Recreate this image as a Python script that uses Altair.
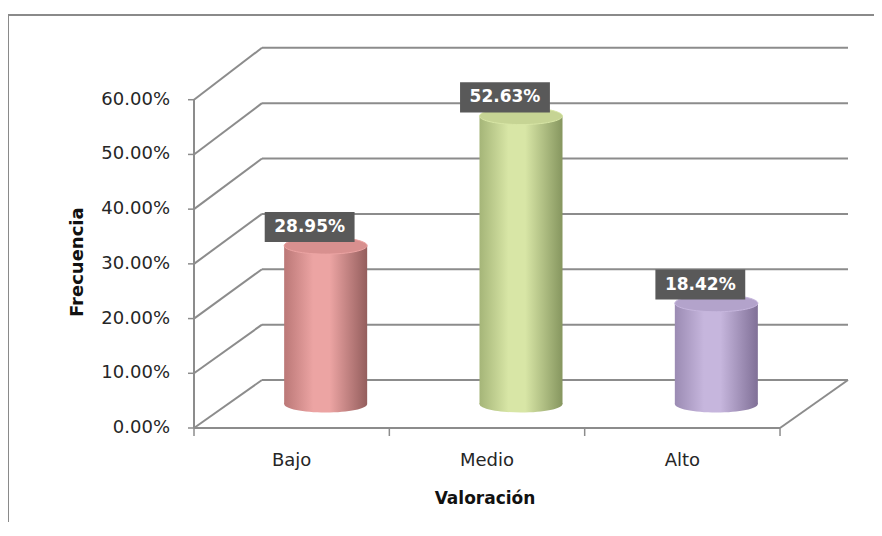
import altair as alt
import pandas as pd

# ---------------- data ----------------
categories = ["Bajo", "Medio", "Alto"]
values = [28.95, 52.63, 18.42]
value_labels = ["28.95%", "52.63%", "18.42%"]
y_ticks = [0, 10, 20, 30, 40, 50, 60]
y_tick_labels = ["0.00%", "10.00%", "20.00%", "30.00%", "40.00%", "50.00%", "60.00%"]
x_ticks = [0, 1, 2, 3]
x_title = "Valoración"
y_title = "Frecuencia"

light = ["#eca4a3", "#d8e6a6", "#c6b6dd"]
dark_left = ["#bb7877", "#a5b578", "#9b8bb3"]
dark_right = ["#945e5d", "#86965f", "#807097"]
top_col = ["#d8908f", "#c6d494", "#b3a3cb"]

# ---------------- style constants ----------------
PX_X = 195.33   # px per category unit
PX_Y = 5.471    # px per value unit
DX = 0.348      # depth offset in category units
DY = 8.77       # depth offset in value units
BACK_K = 1.012  # slight perspective stretch on the back wall
R = 0.2125      # cylinder half-width in category units
CYL_PX = 83     # cylinder width in px (for the ellipse symbols)
GRID = "#8c8c8c"
FONT = "DejaVu Sans"
ELLIPSE = "M -1 0 A 1 0.205 0 1 0 1 0 A 1 0.205 0 1 0 -1 0 Z"

xs = alt.Scale(domain=[0, 3 + DX], nice=False, zero=False)
ys = alt.Scale(domain=[0, 70], nice=False, zero=False)


def X(f):
    return alt.X(f, scale=xs, axis=None)


def Y(f):
    return alt.Y(f, scale=ys, axis=None)


# ---------------- tables ----------------
grid_df = pd.DataFrame({"t": y_ticks, "lab": y_tick_labels})
grid_df["xa"] = DX
grid_df["xb"] = 3 + DX
grid_df["x0"] = 0.0
grid_df["xt"] = -6 / PX_X
grid_df["yb"] = grid_df["t"] * BACK_K + DY

xt_df = pd.DataFrame({"x": x_ticks})
xt_df["y"] = 0.0
xt_df["y2"] = -8 / PX_Y

cat_df = pd.DataFrame({"cat": categories, "v": values, "lab": value_labels})
cat_df["i"] = range(len(categories))
cat_df["xc"] = cat_df["i"] + 0.5
cat_df["cx"] = cat_df["i"] + 0.5 + DX / 2
cat_df["cl"] = cat_df["cx"] - R
cat_df["cr"] = cat_df["cx"] + R
cat_df["yb0"] = DY / 2
cat_df["ytop"] = cat_df["v"] + DY / 2
cat_df["bx"] = cat_df["i"] + 0.5 + 0.092
cat_df["bl"] = cat_df["bx"] - 0.23
cat_df["br"] = cat_df["bx"] + 0.23
cat_df["by"] = cat_df["v"] + 7.8
cat_df["byl"] = cat_df["by"] - 2.75
cat_df["byh"] = cat_df["by"] + 2.75
cat_df["zero"] = 0.0

titles_df = pd.DataFrame({"x": [1.5], "y": [0.0], "tx": [x_title]})
ytitle_df = pd.DataFrame({"x": [-116 / PX_X], "y": [30.3], "tx": [y_title]})

# back wall gridlines
back = alt.Chart(grid_df).mark_rule(color=GRID, strokeWidth=2).encode(
    x=X("xa:Q"), x2="xb:Q", y=Y("yb:Q"))
# side wall diagonals
side = alt.Chart(grid_df).mark_rule(color=GRID, strokeWidth=2).encode(
    x=X("x0:Q"), x2="xa:Q", y=Y("t:Q"), y2="yb:Q")
# floor right edge
floor_df = pd.DataFrame({"x": [3.0], "x2": [3 + DX], "y": [0.0], "y2": [DY]})
floor_r = alt.Chart(floor_df).mark_rule(color=GRID, strokeWidth=2).encode(
    x=X("x:Q"), x2="x2:Q", y=Y("y:Q"), y2="y2:Q")
# front axis lines
yline_df = pd.DataFrame({"x": [0.0], "y": [0.0], "y2": [float(y_ticks[-1])]})
yline = alt.Chart(yline_df).mark_rule(color=GRID, strokeWidth=2).encode(
    x=X("x:Q"), y=Y("y:Q"), y2="y2:Q")
xline_df = pd.DataFrame({"x": [0.0], "x2": [3.0], "y": [0.0]})
xline = alt.Chart(xline_df).mark_rule(color=GRID, strokeWidth=2).encode(
    x=X("x:Q"), x2="x2:Q", y=Y("y:Q"))
# ticks
yticks = alt.Chart(grid_df).mark_rule(color=GRID, strokeWidth=1.5).encode(
    x=X("xt:Q"), x2="x0:Q", y=Y("t:Q"))
xticks = alt.Chart(xt_df).mark_rule(color=GRID, strokeWidth=1.5).encode(
    x=X("x:Q"), y=Y("y:Q"), y2="y2:Q")
# y tick labels
ylabels = alt.Chart(grid_df).mark_text(
    font=FONT, fontSize=18, color="#262626", align="right", baseline="middle", dx=-24
).encode(x=X("x0:Q"), y=Y("t:Q"), text="lab:N")

layers = [back, side, floor_r, xline, yline, yticks, xticks, ylabels]

# cylinders
for i in range(len(categories)):
    grad = alt.LinearGradient(
        gradient="linear",
        stops=[
            alt.GradientStop(color=dark_left[i], offset=0),
            alt.GradientStop(color=light[i], offset=0.35),
            alt.GradientStop(color=light[i], offset=0.55),
            alt.GradientStop(color=dark_right[i], offset=1),
        ],
        x1=0, x2=1, y1=0, y2=0,
    )
    d = cat_df[cat_df["i"] == i]
    base = alt.Chart(d)
    bottom = base.mark_point(shape=ELLIPSE, size=CYL_PX ** 2, filled=True, fill=grad,
                             opacity=1, strokeWidth=0).encode(
        x=X("cx:Q"), y=Y("yb0:Q"))
    body = base.mark_rect(fill=grad, strokeWidth=0).encode(
        x=X("cl:Q"), x2="cr:Q", y=Y("yb0:Q"), y2="ytop:Q")
    top = base.mark_point(shape=ELLIPSE, size=CYL_PX ** 2, filled=True, fill=top_col[i],
                          opacity=1, stroke=light[i], strokeWidth=1).encode(
        x=X("cx:Q"), y=Y("ytop:Q"))
    layers += [bottom, body, top]

# value label boxes + text
boxes = alt.Chart(cat_df).mark_rect(fill="#595959").encode(
    x=X("bl:Q"), x2="br:Q", y=Y("byl:Q"), y2="byh:Q")
texts = alt.Chart(cat_df).mark_text(
    font=FONT, fontSize=17, fontWeight="bold", color="white",
    align="center", baseline="middle",
).encode(x=X("bx:Q"), y=Y("by:Q"), text="lab:N")
cat_labels = alt.Chart(cat_df).mark_text(
    font=FONT, fontSize=18, color="#262626", align="center",
    baseline="alphabetic", dy=38,
).encode(x=X("xc:Q"), y=Y("zero:Q"), text="cat:N")
xtitle = alt.Chart(titles_df).mark_text(
    font=FONT, fontSize=17, fontWeight="bold", color="#111111", align="center",
    baseline="alphabetic", dy=76, dx=-2,
).encode(x=X("x:Q"), y=Y("y:Q"), text="tx:N")
ytitle = alt.Chart(ytitle_df).mark_text(
    font=FONT, fontSize=18, fontWeight="bold", color="#111111", align="center",
    baseline="middle", angle=270,
).encode(x=X("x:Q"), y=Y("y:Q"), text="tx:N")

frame = alt.Chart(pd.DataFrame({"k": [0]})).mark_rect(
    fill="transparent", stroke="#8a8a8a", strokeWidth=2
).encode(
    x=alt.value(-186), x2=alt.value(720), y=alt.value(-30), y2=alt.value(520),
)

layers += [boxes, texts, cat_labels, xtitle, ytitle, frame]

chart = alt.layer(*layers).properties(
    width=654, height=383,
    autosize=alt.AutoSizeParams(type="none"),
    padding={"left": 186, "top": 37, "right": 26, "bottom": 94},
    background="white",
).configure_view(stroke=None)

chart.save("out.html", embed_options={"renderer": "svg", "actions": False})
